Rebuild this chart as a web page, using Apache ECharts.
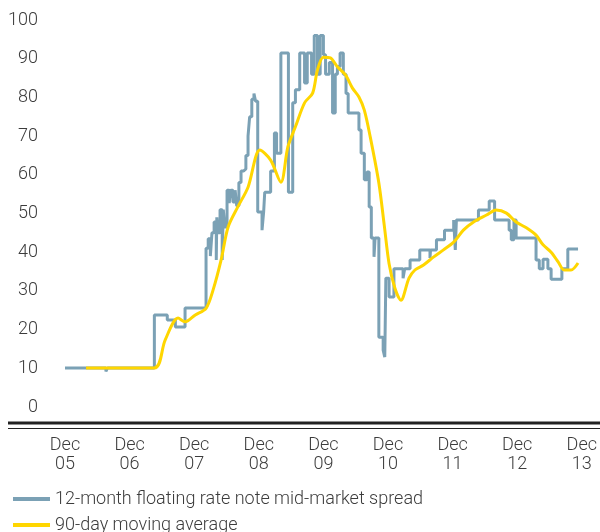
<!DOCTYPE html>
<html lang="en">
<head>
  <meta charset="UTF-8" />
  <title>FRN spread</title>
  <style>
    * { padding: 0; margin: 0; }
    html, body { width: 100%; height: 100%; background: #fff; }
    #chart { width: 600px; height: 532px; }
  </style>
</head>
<body>
  <div id="chart"></div>
  <script src="https://cdn.jsdelivr.net/npm/echarts@6/dist/echarts.min.js"></script>
  <script>
    // x values are months counted from Dec 2005
    var yearTicks = ['05', '06', '07', '08', '09', '10', '11', '12', '13']
    var seriesNames = ['12-month floating rate note mid-market spread', '90-day moving average']

    // 12-month FRN mid-market spread (step line): [month, value]
    var spread = [
      [0, 10.1], [7.6, 9.2], [7.9, 10.1], [16.6, 23.8], [19.0, 22.5], [20.5, 20.7],
      [22.3, 25.6], [26.2, 41], [26.6, 43.5], [27.0, 39], [27.3, 45], [27.7, 47.8],
      [28.1, 38], [28.2, 49], [28.4, 45], [28.8, 51], [29.2, 38], [29.4, 51],
      [29.7, 46.5], [30.1, 56], [30.5, 52.7], [30.8, 56], [31.2, 53], [31.6, 56],
      [31.9, 52], [32.3, 58], [32.7, 61], [33.2, 61.5], [33.6, 65], [34.0, 70],
      [34.3, 75], [34.7, 79.5], [35.1, 81], [35.4, 79], [35.8, 50.4], [36.6, 45.7],
      [36.9, 50.4], [37.1, 55.5], [38.2, 61], [38.9, 70.8], [39.3, 65.6], [40.1, 91.5],
      [41.5, 55.5], [42.3, 78.6], [42.8, 82], [43.6, 91.5], [44.5, 83.7], [45.0, 91.5],
      [45.8, 86], [46.3, 96], [46.9, 86], [47.4, 96], [48.0, 91], [48.4, 86],
      [49.1, 89], [49.7, 76], [50.2, 86], [50.6, 88], [51.1, 91.5], [51.7, 86],
      [52.2, 81], [52.6, 76], [54.6, 71.6], [55.0, 65.6], [55.6, 58.7], [56.1, 60.7],
      [56.5, 51.7], [56.9, 43.7], [57.4, 38.8], [57.6, 43.7], [58.3, 18], [59.1, 14.7],
      [59.4, 12.9], [59.6, 33.3], [60.2, 28.4], [61.1, 35.7], [62.8, 33.3], [63.1, 35.7],
      [64.1, 38], [65.9, 40.6], [67.8, 38.5], [67.9, 40.6], [69.0, 43.2], [70.5, 45.7],
      [72.2, 48.3], [72.5, 40.6], [72.7, 48.3], [76.8, 50.9], [78.8, 53.2], [79.8, 48.3],
      [82.5, 45.7], [82.9, 43.2], [83.4, 48.3], [83.8, 43.7], [87.5, 38], [88.1, 35.7],
      [88.8, 38.2], [89.7, 35.7], [90.3, 33], [92.3, 35.7], [93.4, 40.8], [95.3, 40.8]
    ]

    // 90-day moving average: [month, value]
    var movingAvg = [
      [3.9, 10.1], [16.6, 10.1], [18.6, 17.3], [21.0, 23], [22.3, 22], [24.2, 23.8],
      [26.2, 25.5], [27.5, 30.2], [29.0, 38], [30.3, 46.5], [32.1, 51.7], [34.0, 56.8],
      [36.2, 66.4], [38.2, 63.8], [40.1, 58.1], [41.4, 67.2], [42.8, 72.4], [44.5, 78.6],
      [46.0, 81.1], [46.9, 87.1], [48.0, 90.4], [49.3, 90.2], [50.6, 87.9], [52.1, 85.8],
      [53.4, 82.4], [54.6, 80.1], [55.6, 76.7], [56.7, 69.8], [58.3, 57.9], [59.3, 47],
      [60.2, 37], [61.3, 30.6], [62.4, 27.6], [63.9, 33.3], [65.0, 35.4], [66.6, 36.7],
      [68.5, 38.8], [70.3, 40.6], [72.2, 42.6], [74.0, 45.7], [75.9, 47.8], [78.3, 49.6],
      [80.1, 50.9], [82.0, 50.1], [83.8, 47.8], [85.7, 46.3], [87.5, 44.4], [88.8, 41.9],
      [90.3, 40], [91.6, 37.5], [92.7, 35.4], [94.0, 35.4], [95.3, 37.2]
    ]

    var txt = '#3c3c3c'
    var font = 'Roboto'
    var blue = '#7BA1B5'
    var yellow = '#FFD600'

    function legendAt(top, name) {
      return {
        left: 8,
        top: top,
        itemWidth: 37,
        itemHeight: 4,
        icon: 'rect',
        textStyle: { color: txt, fontSize: 18, fontFamily: font, fontWeight: 300, padding: [0, 0, 0, 0] },
        data: [name]
      }
    }

    var chart = echarts.init(document.getElementById('chart'))
    var option = {
      animation: false,
      textStyle: { fontFamily: font, fontWeight: 300 },
      grid: { left: 65, right: 14, top: 20, bottom: 125 },
      legend: [legendAt(485, seriesNames[0]), legendAt(511, seriesNames[1])],
      xAxis: {
        type: 'value',
        min: 0,
        max: 96,
        interval: 12,
        axisLine: { show: false },
        axisTick: { show: false },
        splitLine: { show: false },
        axisLabel: {
          color: txt,
          fontSize: 18,
          fontFamily: font,
          fontWeight: 300,
          lineHeight: 19,
          margin: 29,
          formatter: function (v) { return 'Dec\n' + yearTicks[v / 12] }
        }
      },
      yAxis: {
        type: 'value',
        min: 0,
        max: 100,
        interval: 10,
        axisLine: { show: false },
        axisTick: { show: false },
        splitLine: { show: false },
        axisLabel: { color: txt, fontSize: 18, fontFamily: font, fontWeight: 300, margin: 27 }
      },
      graphic: [
        { type: 'line', shape: { x1: 8, y1: 423, x2: 600, y2: 423 }, style: { stroke: '#222', lineWidth: 3 } },
        { type: 'line', shape: { x1: 8, y1: 428.5, x2: 600, y2: 428.5 }, style: { stroke: '#222', lineWidth: 1 } }
      ],
      series: [
        {
          name: seriesNames[0],
          type: 'line',
          step: 'end',
          data: spread,
          symbol: 'none',
          color: blue,
          lineStyle: { width: 3, color: blue },
          z: 2
        },
        {
          name: seriesNames[1],
          type: 'line',
          smooth: 0.3,
          data: movingAvg,
          symbol: 'none',
          color: yellow,
          lineStyle: { width: 3, color: yellow },
          z: 3
        }
      ]
    }
    chart.setOption(option)
  </script>
</body>
</html>
